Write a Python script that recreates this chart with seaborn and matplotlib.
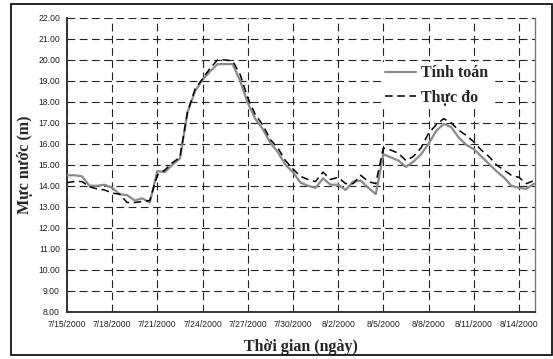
import numpy as np
import pandas as pd
import matplotlib
matplotlib.use("Agg")
import matplotlib.pyplot as plt
import matplotlib.ticker as mticker
import matplotlib.dates as mdates
import seaborn as sns

# Water level (m), sampled every 12 hours starting 7/15/2000
start = "2000-07-15"
step_hours = 12
tinh_toan = [14.5, 14.5, 14.45, 14.0, 14.0, 14.05, 13.9, 13.6, 13.55, 13.3,
             13.4, 13.2, 14.7, 14.65, 15.0, 15.3, 17.5, 18.5, 19.05, 19.45,
             19.8, 19.8, 19.8, 19.0, 17.95, 17.2, 16.7, 16.05, 15.6, 15.0,
             14.65, 14.15, 14.0, 13.9, 14.35, 14.05, 14.05, 13.8, 14.2, 14.25,
             13.9, 13.6, 15.5, 15.35, 15.2, 14.9, 15.15, 15.5, 16.0, 16.6,
             16.95, 16.8, 16.3, 15.95, 15.75, 15.4, 15.05, 14.7, 14.4, 14.0,
             13.9, 13.85, 14.1]
thuc_do = [14.15, 14.2, 14.2, 13.95, 13.85, 13.8, 13.65, 13.6, 13.2, 13.2,
           13.25, 13.3, 14.5, 14.75, 15.1, 15.35, 17.5, 18.6, 19.1, 19.6,
           20.0, 20.0, 19.95, 19.3, 18.2, 17.4, 16.9, 16.2, 15.8, 15.2,
           14.8, 14.45, 14.3, 14.2, 14.65, 14.3, 14.4, 14.1, 14.1, 14.5,
           14.2, 14.1, 15.8, 15.7, 15.55, 15.2, 15.4, 15.8, 16.5, 16.9,
           17.2, 17.0, 16.65, 16.4, 16.1, 15.7, 15.4, 15.0, 14.75, 14.5,
           14.4, 14.1, 14.25]
y_ticks = [8, 9, 10, 11, 12, 13, 14, 15, 16, 17, 18, 19, 20, 21, 22]

times = pd.date_range(start, periods=len(tinh_toan), freq=f"{step_hours}h")
df = pd.DataFrame({"time": times, "Tính toán": tinh_toan, "Thực đo": thuc_do})

sns.set_theme(style="white")
plt.rcParams["font.family"] = ["Liberation Sans", "DejaVu Sans"]

fig = plt.figure(figsize=(5.53, 3.59), dpi=100)
ax = fig.add_axes([0.121, 0.132, 0.846, 0.818])

sns.lineplot(data=df, x="time", y="Tính toán", ax=ax, color="#8a8a8a",
             linewidth=1.6, label="Tính toán", zorder=3)
sns.lineplot(data=df, x="time", y="Thực đo", ax=ax, color="black",
             linewidth=1.1, linestyle=(0, (5, 3)), label="Thực đo", zorder=4)

t0 = pd.Timestamp(start)
ax.set_xlim(t0, t0 + pd.Timedelta(days=31.05))
ax.set_ylim(8, 22)
ax.set_yticks(y_ticks)
ax.yaxis.set_major_formatter(mticker.FormatStrFormatter("%.2f"))
xt = pd.date_range(start, "2000-08-14", freq="3D")
ax.set_xticks(xt)
ax.xaxis.set_major_formatter(mticker.FuncFormatter(
    lambda v, pos: (lambda d: f"{d.month}/{d.day}/{d.year}")(mdates.num2date(v))))
ax.tick_params(axis="both", labelsize=6.2, colors="#222222", length=3,
               width=0.8, direction="out", pad=2)
ax.tick_params(axis="x", pad=3)

ax.grid(True, color="#222222", linestyle=(0, (7, 4)), linewidth=0.8)
for side in ["left", "bottom"]:
    ax.spines[side].set_color("#333333")
    ax.spines[side].set_linewidth(1.4)
ax.spines["right"].set_color("#777777")
ax.spines["right"].set_linewidth(1.0)
ax.spines["top"].set_visible(False)

lab_font = dict(family=["Liberation Serif"], weight="bold", size=11.5)
ax.set_xlabel("Thời gian (ngày)", fontdict=lab_font, labelpad=7)
ax.set_ylabel("Mực nước (m)", fontdict=lab_font, labelpad=4)

leg = ax.legend(loc="upper left", bbox_to_anchor=(0.657, 0.877), frameon=True,
                fancybox=False, handlelength=1.9, handletextpad=0.35,
                labelspacing=0.55, borderpad=0.2,
                prop=dict(family="Liberation Serif", weight="bold", size=11.5))
leg.get_frame().set_facecolor("white")
leg.get_frame().set_edgecolor("none")
leg.get_frame().set_alpha(1)

# outer frame around the whole chart
fig.patches.append(plt.Rectangle((11 / 553, 1 - 355 / 359), 541 / 553, 351 / 359,
                                 transform=fig.transFigure, fill=False,
                                 edgecolor="black", linewidth=1.2))

fig.savefig("out.png", dpi=100)
